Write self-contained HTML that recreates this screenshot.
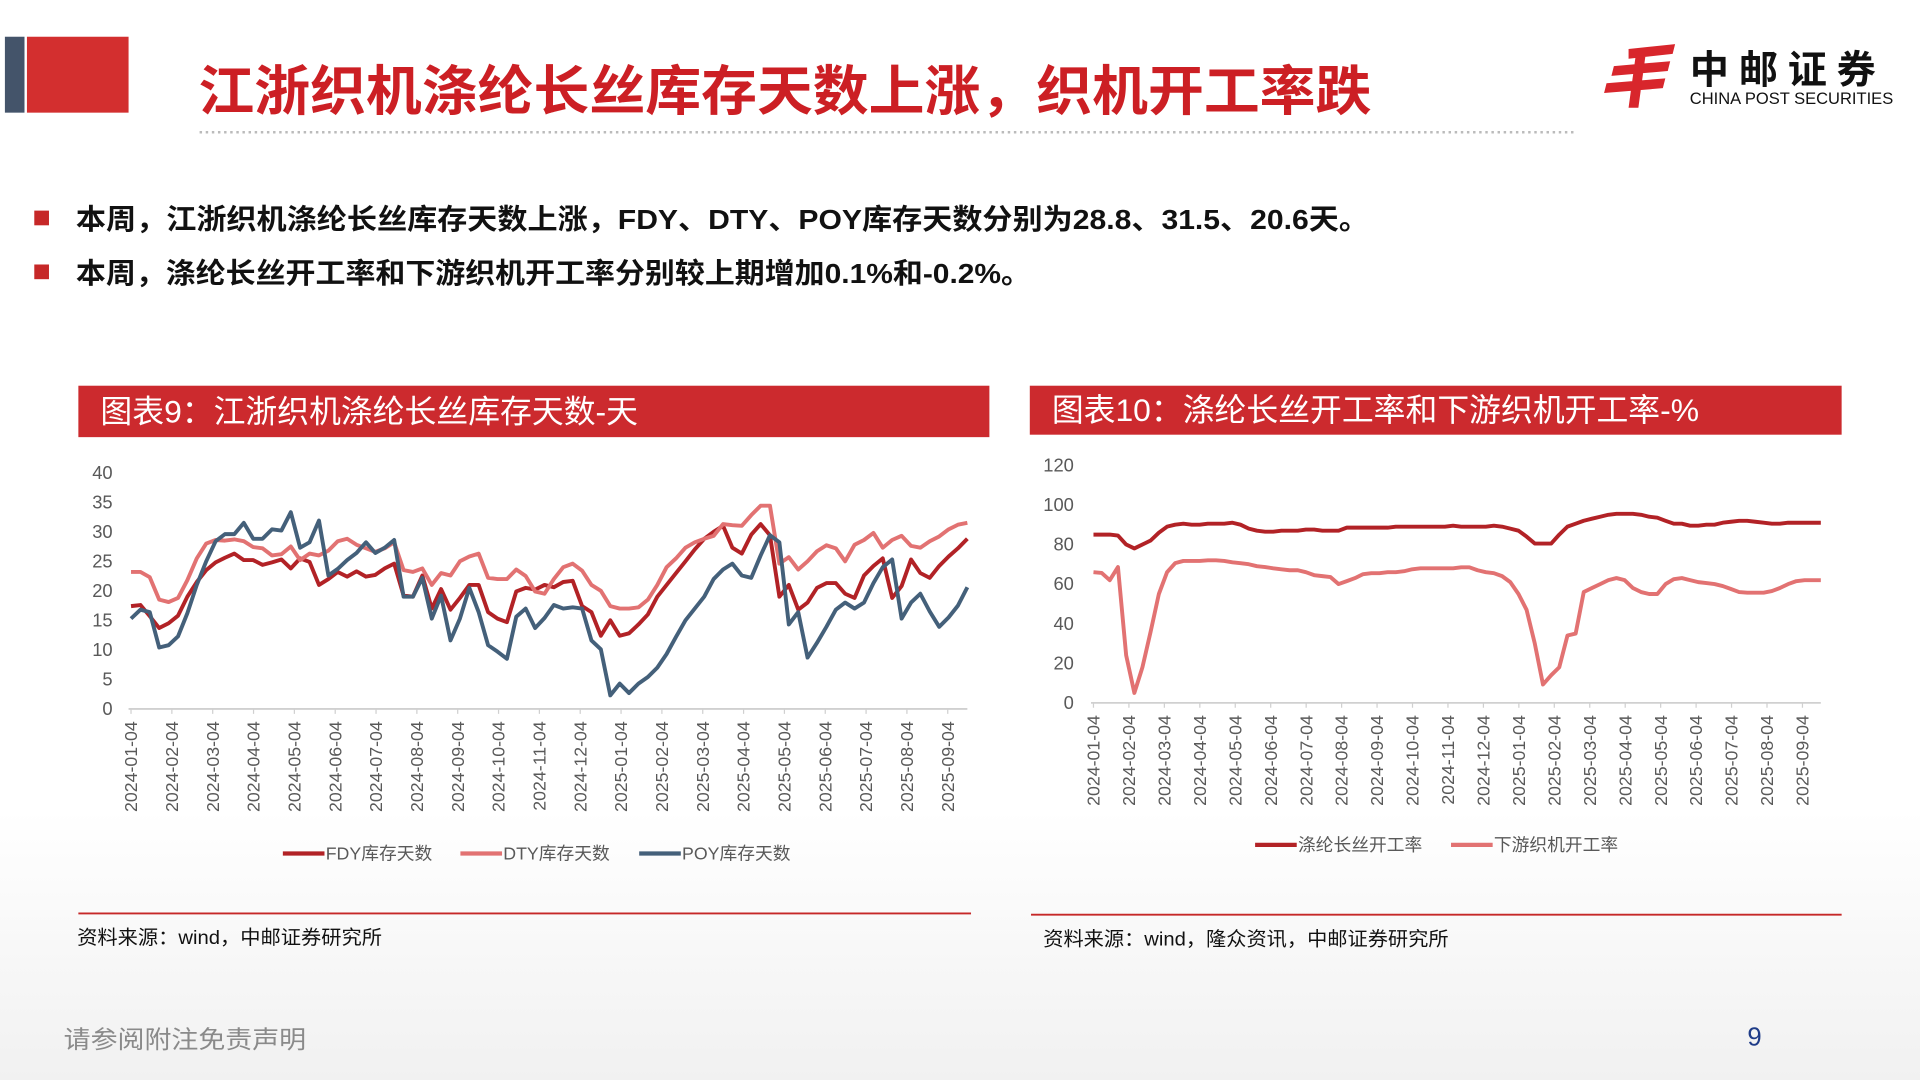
<!DOCTYPE html>
<html><head><meta charset="utf-8"><style>
html,body{margin:0;padding:0;background:#fff;}
svg{display:block;font-family:"Liberation Sans","Noto Sans CJK SC",sans-serif;}
</style></head><body>
<svg id="root" width="1920" height="1080" viewBox="0 0 1568 882" xmlns="http://www.w3.org/2000/svg">
<defs><linearGradient id="bg" x1="0" y1="0" x2="0" y2="1"><stop offset="0.75" stop-color="#fff"/><stop offset="1" stop-color="#f1f1f1"/></linearGradient></defs>
<rect width="1568" height="882" fill="url(#bg)"/>
<rect x="4" y="30" width="16" height="62" fill="#44546a"/>
<rect x="22" y="30" width="83" height="62" fill="#d32f2f"/>
<text x="162" y="90" font-size="44" font-weight="bold" fill="#cc1f24" textLength="958" lengthAdjust="spacingAndGlyphs">江浙织机涤纶长丝库存天数上涨，织机开工率跌</text>
<line x1="163" y1="108" x2="1288" y2="108" stroke="#bbb" stroke-width="2" stroke-dasharray="2,3"/>
<g>
<path d="M1330 40 L1368 36 L1366 44 L1330 48 Z M1318 54 L1364 50 L1362 58 L1316 62 Z M1312 68 L1360 64 L1358 72 L1310 76 Z M1336 44 L1344 44 L1338 88 L1330 88 Z" fill="#d8262c"/>
<text x="1380" y="68" font-size="32" font-weight="bold" fill="#111" letter-spacing="8">中邮证券</text>
<text x="1380" y="85" font-size="13.5" fill="#111">CHINA POST SECURITIES</text>
</g>
<rect x="28" y="172" width="12" height="12" fill="#c62828"/>
<text x="62" y="187" font-size="23" font-weight="bold" fill="#111" textLength="1056" lengthAdjust="spacingAndGlyphs">本周，江浙织机涤纶长丝库存天数上涨，FDY、DTY、POY库存天数分别为28.8、31.5、20.6天。</text>
<rect x="28" y="216" width="12" height="12" fill="#c62828"/>
<text x="62" y="231" font-size="23" font-weight="bold" fill="#111" textLength="780" lengthAdjust="spacingAndGlyphs">本周，涤纶长丝开工率和下游织机开工率分别较上期增加0.1%和-0.2%。</text>

<rect x="64" y="315" width="744" height="42" fill="#cc2a2e"/>
<text x="82" y="345" font-size="26" fill="#fff">图表9：江浙织机涤纶长丝库存天数-天</text>
<rect x="841" y="315" width="663" height="40" fill="#cc2a2e"/>
<text x="859" y="344" font-size="26" fill="#fff">图表10：涤纶长丝开工率和下游织机开工率-%</text>

<g id="c1"></g>
<g id="c2"></g>

<line x1="64" y1="746" x2="793" y2="746" stroke="#c62828" stroke-width="1.5"/>
<text x="63" y="771" font-size="16" fill="#111" textLength="249" lengthAdjust="spacingAndGlyphs">资料来源：wind，中邮证券研究所</text>
<line x1="842" y1="747" x2="1504" y2="747" stroke="#c62828" stroke-width="1.5"/>
<text x="852" y="772" font-size="16" fill="#111" textLength="331" lengthAdjust="spacingAndGlyphs">资料来源：wind，隆众资讯，中邮证券研究所</text>
<text x="52" y="856" font-size="20" fill="#8a8a8a" textLength="198" lengthAdjust="spacingAndGlyphs">请参阅附注免责声明</text>
<text x="1427" y="854" font-size="21" fill="#1f3c88">9</text>
</svg>
<script>
const months1 = ["2024-01-04","2024-02-04","2024-03-04","2024-04-04","2024-05-04","2024-06-04","2024-07-04","2024-08-04","2024-09-04","2024-10-04","2024-11-04","2024-12-04","2025-01-04","2025-02-04","2025-03-04","2025-04-04","2025-05-04","2025-06-04","2025-07-04","2025-08-04","2025-09-04"];
const yTicks1 = [0,5,10,15,20,25,30,35,40];
const fdy = [17.4,17.6,15.7,13.7,14.5,15.8,19,21.5,23.5,24.8,25.6,26.3,25.2,25.2,24.4,24.8,25.3,23.8,25.5,24.9,21,22,23.2,22.4,23.3,22.4,22.7,23.8,24.6,19.2,19,22.6,17,20.3,16.8,18.8,21,21,16.4,15.3,14.7,19.9,20.5,20.2,21,20.6,21.5,21.7,17.4,16.4,12.4,15,12.4,12.8,14.3,16,19,21,23,25,27,28.8,30,31,27.3,26.3,29.5,31.3,29.4,19,21,16.8,18,20.5,21.3,21.3,19.5,18.8,22.6,24.2,25.5,18.8,20.8,25.3,23,22.2,24.2,25.8,27.2,28.8];
const dty = [23.2,23.2,22.3,18.5,18.1,18.8,21.8,25.5,28,28.6,28.5,28.7,28.4,27.4,27.2,26,26.2,27.5,25.2,26.3,26,26.8,28.4,28.8,27.8,27.2,26.6,27.2,28.2,23.5,23.2,23.8,21,23,22.6,25,25.8,26.3,22.2,22,22,23.6,22.5,19.9,19.5,22,24,24.6,23.4,21,20,17.4,17,17,17.2,18.5,21,24,25.5,27.3,28.2,28.8,29.3,31.3,31.1,31,32.8,34.4,34.4,24.6,25.7,23.6,25,26.7,27.7,27.2,25,27.8,28.6,29.8,27.3,28.6,29.3,27.6,27.3,28.4,29.2,30.4,31.2,31.5];
const poy = [15.3,16.8,16.4,10.4,10.8,12.3,16.2,21,25,28.4,29.6,29.6,31.5,28.8,28.8,30.4,30.2,33.3,27.3,28.2,31.9,22.6,23.7,25.2,26.4,28.2,26.4,27.3,28.6,19,19,22.2,15.3,19.2,11.6,15.3,20.5,16.4,10.8,9.7,8.5,15.6,17,13.7,15.4,17.6,17,17.2,17,11.6,10.1,2.3,4.3,2.7,4.3,5.4,7,9.3,12.2,15,17,19,22,23.6,24.6,22.6,22.2,26,29.4,28.2,14.3,16.4,8.7,11.2,13.9,16.8,18,17,18,21.3,24,25.3,15.3,18,19.5,16.5,13.9,15.5,17.5,20.6];
const legend1 = ["FDY库存天数","DTY库存天数","POY库存天数"];

const months2 = months1;
const yTicks2 = [0,20,40,60,80,100,120];
const polyRate = [85,85,85,84.5,80,78,80,82,86,89,90,90.5,90,90,90.5,90.5,90.5,91,90,88,87,86.5,86.5,87,87,87,87.5,87.5,87,87,87,88.5,88.5,88.5,88.5,88.5,88.5,89,89,89,89,89,89,89,89.5,89,89,89,89,89.5,89,88,87,84,80.5,80.5,80.5,85,89,90.5,92,93,94,95,95.5,95.5,95.5,95,94,93.5,92,90.5,90.5,89.5,89.5,90,90,91,91.5,92,92,91.5,91,90.5,90.5,91,91,91,91,91];
const loomRate = [66,65.6,62,68.6,24,5,18,36,55,66,70.6,71.7,71.7,71.7,72,72,71.7,71,70.6,70,69,68.6,68,67.5,67,67,66,64.5,64,63.5,60,61.5,63,65,65.5,65.5,66,66,66.5,67.5,68,68,68,68,68,68.5,68.5,67,66,65.5,64,61,55,47,30,9.3,14,18,34,35,56,58,60,62,63,62,58,56,55,55,60,62.5,63,62,61,60.5,60,59,57.5,56,55.7,55.7,55.7,56.5,58,60,61.5,62,62,62];
const legend2 = ["涤纶长丝开工率","下游织机开工率"];

const NS="http://www.w3.org/2000/svg";
function mk(parent,tag,attrs){const e=document.createElementNS(NS,tag);for(const k in attrs)e.setAttribute(k,attrs[k]);parent.appendChild(e);return e;}

function drawChart(g,opt){
  const {x0,x1,lastX,y0,yTop,yMax,ticks,months,series,colors,names,labelX,legendY,legendX}=opt;
  const n=series[0].length;
  const xs=i=>x0+(lastX-x0)*i/(n-1);
  const ys=v=>y0-(y0-yTop)*v/yMax;
  ticks.forEach(t=>{
    const tx=mk(g,'text',{x:labelX,y:ys(t)+5,'font-size':15,fill:'#595959','text-anchor':'end'});
    
    
    tx.textContent=t;
  });
  const ax=mk(g,'line',{x1:x0-2,y1:y0,x2:x1,y2:y0,stroke:'#d0d0d0','stroke-width':1.5});
  
  
  months.forEach((m,i)=>{
    const px=x0+i*(opt.monthStep);
    const tk=mk(g,'line',{x1:px,y1:y0,x2:px,y2:y0+4,stroke:'#d0d0d0','stroke-width':1});
    
    
    const t=mk(g,'text',{x:0,y:0,'font-size':14.5,fill:'#595959','text-anchor':'end',transform:`translate(${px+5},${y0+10}) rotate(-90)`});
    
    
    t.textContent=m;
  });
  series.forEach((s,k)=>{
    const d=s.map((v,i)=>(i?'L':'M')+xs(i).toFixed(1)+' '+ys(v).toFixed(1)).join(' ');
    const p=mk(g,'path',{d,fill:'none',stroke:colors[k],'stroke-width':3.2,'stroke-linejoin':'round'});
    
    
  });
  names.forEach((nm,k)=>{
    const lx=legendX[k];
    const ln=mk(g,'line',{x1:lx,y1:legendY,x2:lx+34,y2:legendY,stroke:colors[k],'stroke-width':3.5});
    
    
    const t=mk(g,'text',{x:lx+35,y:legendY+5,'font-size':14.5,fill:'#595959'});
    
    
    t.textContent=nm;
  });
}
drawChart(document.getElementById('c1'),{x0:107,x1:790,lastX:790,y0:579,yTop:386,yMax:40,ticks:yTicks1,months:months1,monthStep:33.35,
  series:[fdy,dty,poy],colors:['#b22226','#e27272','#44607a'],names:legend1,labelX:92,legendY:697,legendX:[231,376,522]});
drawChart(document.getElementById('c2'),{x0:893,x1:1487,lastX:1487,y0:574,yTop:380,yMax:120,ticks:yTicks2,months:months2,monthStep:28.95,
  series:[polyRate,loomRate],colors:['#b22226','#e27272'],names:legend2,labelX:877,legendY:690,legendX:[1025,1185]});
</script>
</body></html>
